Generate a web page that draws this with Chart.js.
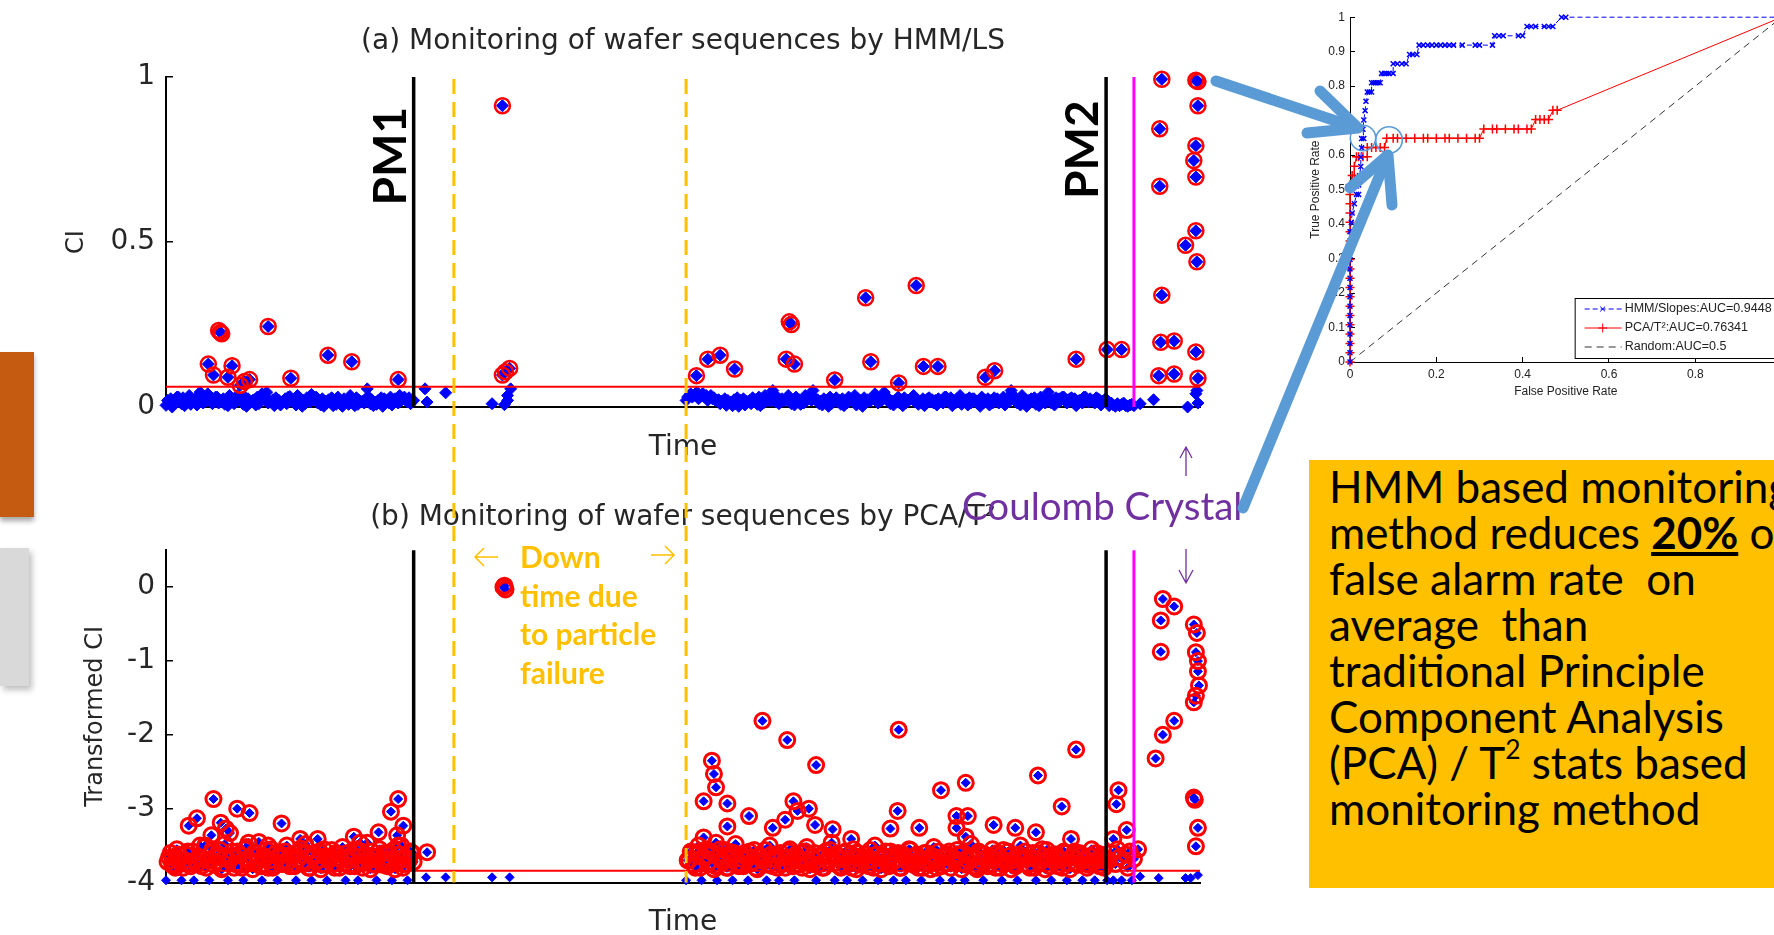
<!DOCTYPE html>
<html>
<head>
<meta charset="utf-8">
<script src="https://cdn.jsdelivr.net/npm/chart.js@4.4.1/dist/chart.umd.min.js"></script>
<style>
  html, body { margin: 0; padding: 0; }
  body { width: 1774px; height: 935px; overflow: hidden; position: relative; background: #fff; }
  canvas, .abs { position: absolute; }
  #barOrange { left: 0; top: 352px; width: 34px; height: 165px; background: #C55A11; box-shadow: 0 4px 5px rgba(0,0,0,0.35); }
  #barGray { left: 0; top: 548px; width: 29px; height: 138px; background: #D9D9D9; box-shadow: 3px 4px 6px rgba(0,0,0,0.25); }
  #downtime { left: 520px; top: 537px; font: bold 30px/38.5px Lato; color: #FFC000; white-space: nowrap; }
  #coulomb { left: 962px; top: 485px; font: 38.5px/40px Lato; color: #7030A0; white-space: nowrap; }
  #note { left: 1309px; top: 460px; width: 480px; height: 428px; background: #FFC000; box-sizing: border-box;
          padding: 3px 0 0 20px; font: 44px/46px Lato; color: #000; white-space: nowrap; overflow: hidden; }
  #note sup { font-size: 60%; line-height: 0; vertical-align: 0.75em; }
  #overlay { position: absolute; left: 0; top: 0; pointer-events: none; }
</style>
</head>
<body>
<div id="barOrange" class="abs"></div>
<div id="barGray" class="abs"></div>

<canvas id="chartA" width="1240" height="480" style="left:0;top:0"></canvas>
<canvas id="chartB" width="1240" height="470" style="left:0;top:480px"></canvas>
<canvas id="roc" width="505" height="410" style="left:1290px;top:0"></canvas>

<div id="downtime" class="abs">Down<br>time due<br>to particle<br>failure</div>
<div id="coulomb" class="abs">Coulomb Crystal</div>
<div id="note" class="abs">HMM based monitoring<br>method reduces <b><u>20%</u></b> of<br>false alarm rate&nbsp; on<br>average&nbsp; than<br>traditional Principle<br>Component Analysis<br>(PCA) / T<sup>2</sup> stats based<br>monitoring method</div>

<svg id="overlay" width="1774" height="935">
  <g fill="none" stroke="#5B9BD5" stroke-width="11" stroke-linecap="round" stroke-linejoin="round">
    <path d="M1216 81 L1354 127" />
    <path d="M1320 91 L1358 128 L1307 133" />
    <path d="M1243 508 L1386 160" />
    <path d="M1350 188 L1388 155 L1392 205" />
  </g>
  <g fill="none" stroke="#5B9BD5" stroke-width="1.6">
    <circle cx="1363" cy="138" r="12.7" />
    <circle cx="1389" cy="140" r="13.3" />
  </g>
  <g fill="none" stroke="#7030A0" stroke-width="1.3">
    <path d="M1186 476 L1186 448 M1180 458 L1186 447 L1192 458" />
    <path d="M1186 549 L1186 582 M1179 570 L1186 583 L1193 570" />
  </g>
  <g fill="none" stroke="#FFC000" stroke-width="1.5">
    <path d="M475 557 L498 557 M484 548 L475 557 L484 566" />
    <path d="M651 555 L674 555 M665 546 L674 555 L665 564" />
  </g>
</svg>

<script>
// Time axis landmarks (sample time)
const T_MAX = 1002;
const PM_TIMES = [240, 911];
const PM_LABELS = ['PM1', 'PM2'];
const PM_LABEL_CI = [0.76, 0.78];
const CRYSTAL_TIME = 938;
const DOWNTIME = [279, 504];

// (a) HMM/LS confidence index
const A_LIMIT = 0.061;
const A_RUN_START = [0, 504, 914, 1.5, 505.5];
const A_RUN_STEP = [3, 3, 2, 3, 3];
const aRun1 = [0.005,0.012,0.0,0.02,0.03,0.01,0.004,0.015,0.008,0.02,
  0.006,0.045,0.012,0.018,0.028,0.01,0.03,0.012,0.02,0.008,
  0.004,0.02,0.01,0.035,0.018,0.008,0.002,0.012,0.02,0.006,
  0.01,0.04,0.025,0.012,0.015,0.004,0.012,0.006,0.02,0.01,
  0.032,0.015,0.006,0.012,0.002,0.01,0.02,0.038,0.025,0.012,
  0.006,0.002,0.012,0.015,0.004,0.008,0.012,0.002,0.02,0.008,
  0.012,0.004,0.008,0.015,0.012,0.055,0.01,0.004,0.008,0.012,
  0.002,0.02,0.012,0.006,0.025,0.012,0.02,0.03,0.015,0.01,0.02];
const aRun2 = [0.02,0.035,0.03,0.04,0.025,0.038,0.03,0.02,0.035,0.028,
  0.02,0.01,0.015,0.005,0.012,0.004,0.01,0.002,0.012,0.006,
  0.015,0.01,0.02,0.008,0.004,0.012,0.02,0.03,0.05,0.015,
  0.01,0.025,0.02,0.035,0.01,0.006,0.015,0.008,0.012,0.02,
  0.03,0.05,0.02,0.01,0.006,0.015,0.002,0.01,0.02,0.015,
  0.008,0.004,0.012,0.025,0.018,0.006,0.012,0.002,0.015,0.02,
  0.025,0.04,0.012,0.02,0.045,0.02,0.01,0.006,0.015,0.012,
  0.004,0.012,0.02,0.03,0.015,0.008,0.012,0.004,0.025,0.015,
  0.012,0.006,0.02,0.012,0.03,0.015,0.004,0.012,0.02,0.008,
  0.015,0.006,0.012,0.025,0.012,0.002,0.012,0.02,0.006,0.012,
  0.02,0.012,0.015,0.006,0.03,0.05,0.02,0.012,0.006,0.012,
  0.002,0.012,0.02,0.008,0.004,0.015,0.012,0.045,0.012,0.006,
  0.015,0.02,0.03,0.012,0.025,0.015,0.004,0.02,0.012,0.03,
  0.015,0.02,0.012,0.025,0.006,0.015,0.02];
const aRun3 = [0.004,0.012,0.006,0.002,0.01,0.004,0.008,0.012,0.004,0.002,0.006,0.008,0.004];
const aRun1b = [0.02,0.025,0.018,0.03,0.022,0.028,0.015,0.035,0.02,0.025,
  0.03,0.018,0.022,0.04,0.025,0.02,0.03,0.015,0.025,0.02,
  0.035,0.022,0.018,0.028,0.02,0.03,0.025,0.015,0.022,0.03,
  0.02,0.025,0.045,0.018,0.022,0.028,0.02,0.015,0.025,0.03,
  0.022,0.018,0.035,0.025,0.02,0.028,0.015,0.022,0.03,0.02,
  0.025,0.018,0.022,0.028,0.02,0.03,0.015,0.025,0.02,0.035,
  0.022,0.028,0.02,0.018,0.025,0.03,0.022,0.015,0.02,0.028,
  0.025,0.02,0.03,0.022,0.018,0.035,0.025,0.02,0.028,0.022];
const aRun2b = [0.03,0.04,0.035,0.045,0.03,0.04,0.035,0.028,0.025,0.02,
  0.022,0.018,0.025,0.02,0.015,0.022,0.028,0.02,0.025,0.018,
  0.02,0.028,0.022,0.03,0.025,0.035,0.02,0.018,0.025,0.03,
  0.022,0.02,0.028,0.025,0.018,0.03,0.022,0.02,0.035,0.025,
  0.02,0.028,0.022,0.018,0.025,0.02,0.03,0.022,0.028,0.02,
  0.025,0.018,0.03,0.022,0.035,0.025,0.02,0.028,0.022,0.018,
  0.025,0.03,0.02,0.022,0.028,0.025,0.018,0.02,0.03,0.022,
  0.028,0.02,0.025,0.035,0.022,0.018,0.025,0.02,0.028,0.022,
  0.02,0.025,0.018,0.03,0.022,0.028,0.02,0.025,0.035,0.02,
  0.022,0.028,0.025,0.018,0.02,0.03,0.022,0.025,0.02,0.028,
  0.025,0.02,0.03,0.022,0.018,0.025,0.028,0.02,0.035,0.022,
  0.02,0.025,0.028,0.022,0.03,0.018,0.025,0.02,0.022,0.028,
  0.025,0.03,0.02,0.022,0.028,0.025,0.018,0.02,0.03,0.022,
  0.025,0.02,0.028,0.022,0.018,0.025];
const aLowTime = [251, 253, 271, 316, 328, 331, 331, 334, 944, 957, 990, 998, 999, 1000];
const aLowCI = [0.055, 0.015, 0.043, 0.01, 0.007, 0.02, 0.035, 0.055, 0.01, 0.022, 0.0, 0.04, 0.05, 0.012];
const aPeakTime = [41, 46, 51, 52.6, 54, 60, 64, 72, 76, 81, 99, 121, 157, 180, 225,
  326, 326, 329, 333,
  514, 525, 537, 551, 601, 604, 606, 609, 648, 678, 683, 710, 727, 734, 748, 794, 803, 882,
  912, 926,
  962, 963, 963, 964, 965, 965, 977, 977, 988, 996, 998, 998, 998, 998, 998, 999, 1000, 1000, 1000];
const aPeakCI = [0.13, 0.097, 0.232, 0.226, 0.222, 0.09, 0.125, 0.066, 0.077, 0.083, 0.244, 0.087, 0.157, 0.137, 0.083,
  0.913, 0.097, 0.107, 0.117,
  0.095, 0.145, 0.157, 0.115, 0.145, 0.258, 0.25, 0.13, 0.082, 0.331, 0.137, 0.073, 0.368, 0.123, 0.123, 0.09, 0.11, 0.145,
  0.174, 0.174,
  0.095, 0.843, 0.669, 0.196, 0.993, 0.339, 0.2, 0.1, 0.49, 0.747, 0.99, 0.792, 0.697, 0.534, 0.167, 0.44, 0.986, 0.913, 0.087];

// (b) PCA/T2 transformed confidence index
const B_LIMIT = -3.84;
const B_RUN_START = [0, 504, 914, 1.5, 505.5];
const B_RUN_STEP = [3, 3, 2, 3, 3];
const bRun1 = [-3.97,-3.66,-3.75,-3.8,-3.62,-3.97,-3.7,-3.58,-3.78,-3.97,
  -3.75,-3.5,-3.68,-3.8,-3.97,-3.55,-3.72,-3.62,-3.82,-3.48,
  -3.97,-3.65,-3.8,-3.58,-3.76,-3.97,-3.52,-3.7,-3.82,-3.6,
  -3.45,-3.97,-3.68,-3.8,-3.55,-3.78,-3.97,-3.62,-3.72,-3.5,
  -3.78,-3.65,-3.97,-3.58,-3.72,-3.48,-3.8,-3.97,-3.62,-3.7,
  -3.82,-3.55,-3.97,-3.66,-3.75,-3.6,-3.8,-3.52,-3.97,-3.7,
  -3.62,-3.78,-3.97,-3.58,-3.72,-3.46,-3.82,-3.65,-3.97,-3.55,
  -3.76,-3.7,-3.6,-3.97,-3.82,-3.5,-3.68,-3.75,-3.97,-3.58,-3.72];
const bRun2 = [-3.97,-3.7,-3.6,-3.8,-3.5,-3.97,-3.66,-3.75,-3.58,-3.82,
  -3.97,-3.55,-3.72,-3.8,-3.62,-3.97,-3.48,-3.78,-3.68,-3.6,
  -3.97,-3.74,-3.56,-3.82,-3.65,-3.7,-3.97,-3.5,-3.78,-3.62,
  -3.97,-3.66,-3.8,-3.58,-3.72,-3.97,-3.76,-3.6,-3.7,-3.52,
  -3.82,-3.75,-3.97,-3.64,-3.8,-3.58,-3.7,-3.46,-3.97,-3.68,
  -3.8,-3.6,-3.97,-3.72,-3.55,-3.82,-3.66,-3.97,-3.62,-3.78,
  -3.7,-3.5,-3.97,-3.82,-3.64,-3.74,-3.58,-3.97,-3.68,-3.8,
  -3.62,-3.97,-3.55,-3.72,-3.66,-3.8,-3.97,-3.6,-3.7,-3.82,
  -3.52,-3.8,-3.97,-3.65,-3.74,-3.58,-3.97,-3.68,-3.62,-3.82,
  -3.97,-3.7,-3.48,-3.78,-3.82,-3.6,-3.97,-3.66,-3.75,-3.55,
  -3.8,-3.64,-3.97,-3.7,-3.58,-3.82,-3.75,-3.97,-3.5,-3.66,
  -3.68,-3.8,-3.6,-3.97,-3.72,-3.55,-3.82,-3.66,-3.97,-3.62,
  -3.78,-3.7,-3.58,-3.97,-3.82,-3.64,-3.74,-3.6,-3.97,-3.68,
  -3.76,-3.55,-3.97,-3.7,-3.62,-3.8,-3.97];
const bRun3 = [-3.7,-3.6,-3.97,-3.75,-3.55,-3.66,-3.97,-3.7,-3.62,-3.8,-3.58,-3.97,-3.68];
const bRun1b = [-3.72,-3.6,-3.78,-3.55,-3.68,-3.8,-3.62,-3.74,-3.58,-3.7,
  -3.65,-3.78,-3.52,-3.7,-3.6,-3.76,-3.66,-3.56,-3.8,-3.64,
  -3.7,-3.58,-3.75,-3.62,-3.8,-3.55,-3.68,-3.74,-3.6,-3.72,
  -3.78,-3.64,-3.56,-3.7,-3.8,-3.6,-3.66,-3.75,-3.58,-3.72,
  -3.62,-3.78,-3.68,-3.54,-3.74,-3.6,-3.8,-3.66,-3.72,-3.58,
  -3.76,-3.64,-3.7,-3.56,-3.8,-3.62,-3.68,-3.74,-3.6,-3.78,
  -3.66,-3.55,-3.72,-3.8,-3.62,-3.7,-3.58,-3.76,-3.64,-3.72,
  -3.6,-3.78,-3.68,-3.56,-3.74,-3.62,-3.8,-3.66,-3.7,-3.6];
const bRun2b = [-3.7,-3.58,-3.76,-3.62,-3.8,-3.66,-3.55,-3.72,-3.6,-3.78,
  -3.64,-3.7,-3.56,-3.8,-3.68,-3.6,-3.74,-3.62,-3.78,-3.66,
  -3.58,-3.72,-3.8,-3.64,-3.7,-3.56,-3.76,-3.62,-3.68,-3.8,
  -3.6,-3.74,-3.66,-3.55,-3.78,-3.62,-3.7,-3.8,-3.58,-3.72,
  -3.66,-3.6,-3.76,-3.64,-3.8,-3.7,-3.56,-3.74,-3.62,-3.78,
  -3.68,-3.58,-3.72,-3.8,-3.64,-3.6,-3.76,-3.66,-3.7,-3.56,
  -3.8,-3.62,-3.74,-3.68,-3.58,-3.78,-3.64,-3.7,-3.6,-3.8,
  -3.66,-3.72,-3.56,-3.76,-3.62,-3.68,-3.8,-3.6,-3.74,-3.64,
  -3.7,-3.58,-3.78,-3.66,-3.62,-3.8,-3.7,-3.56,-3.74,-3.6,
  -3.76,-3.64,-3.68,-3.8,-3.58,-3.72,-3.62,-3.78,-3.66,-3.7,
  -3.6,-3.8,-3.56,-3.74,-3.64,-3.7,-3.78,-3.62,-3.68,-3.58,
  -3.76,-3.66,-3.8,-3.6,-3.72,-3.64,-3.56,-3.78,-3.7,-3.62,
  -3.68,-3.8,-3.6,-3.74,-3.66,-3.58,-3.76,-3.62,-3.7,-3.8,
  -3.64,-3.72,-3.6,-3.78,-3.66,-3.7];
const bLowTime = [252, 271, 316, 333, 944, 962, 988, 993, 1000];
const bLowCI = [-3.93, -3.93, -3.93, -3.93, -3.92, -3.94, -3.94, -3.94, -3.9];
const bPeakTime = [6, 22, 30, 38, 44, 46, 53, 58, 62, 69, 80, 81, 99, 112, 130, 147, 182, 188, 206, 218, 224, 225, 228, 230,
  253, 327, 328, 329,
  515, 521, 521, 529, 531, 533, 533, 544, 544, 548, 565, 578, 588, 600, 602, 608, 612, 623, 629, 630,
  646, 664, 702, 709, 710, 730, 751, 766, 766, 775, 775, 777, 802, 823, 843, 845, 868, 877, 882,
  918, 921, 923, 931, 942,
  959, 964, 964, 966, 966, 977, 977, 996, 996, 996, 997, 998, 998, 998, 999, 1000, 1000, 1000, 1001];
const bPeakCI = [-3.66, -3.23, -3.13, -3.5, -3.36, -2.87, -3.19, -3.27, -3.33, -3.0, -3.46, -3.06, -3.5, -3.2, -3.41, -3.41,
  -3.38, -3.46, -3.32, -3.04, -3.36, -2.87, -3.5, -3.23,
  -3.59, 0.0, 0.02, -0.03,
  -3.59, -2.9, -3.39, -2.35, -2.53, -2.71, -3.46, -2.93, -3.24, -3.59, -3.1, -1.81, -3.26, -3.15, -2.07, -2.9, -3.03, -3.0, -3.22, -2.41,
  -3.28, -3.41, -3.27, -3.03, -1.93, -3.26, -2.75, -3.1, -3.26, -2.65, -3.38, -3.1, -3.22, -3.26, -3.32, -2.55, -2.97, -3.41, -2.2,
  -3.41, -2.94, -2.75, -3.29, -3.55,
  -2.32, -0.45, -0.875, -0.16, -2.0, -0.26, -1.81, -1.56, -0.505, -2.85, -2.88, -0.88, -1.47, -3.51, -0.62, -1.0, -1.14, -3.26, -1.33];

// ROC curves
const hmmFpr = [0,0,0,0,0,0,0,0,0,0,0,0,0,0,0,0.003,0.005,0.01,0.015,0.02,0.02,0.022,0.025,0.025,0.027,0.027,0.032,
  0.03,0.032,0.035,0.037,0.04,0.045,0.05,0.05,0.055,0.06,0.065,0.07,0.073,0.08,0.085,0.09,0.1,0.1,0.11,0.12,0.13,
  0.138,0.145,0.155,0.16,0.17,0.18,0.19,0.2,0.21,0.22,0.23,0.24,0.26,0.29,0.3,0.33,0.335,0.345,0.355,0.39,0.4,
  0.41,0.42,0.43,0.45,0.46,0.47,0.49,0.5,1];
const hmmTpr = [0,0.027,0.054,0.081,0.108,0.135,0.162,0.189,0.216,0.243,0.27,0.297,0.324,0.351,0.378,0.405,0.432,0.459,0.486,0.486,0.513,0.54,0.567,0.594,0.621,0.648,0.648,
  0.675,0.702,0.729,0.756,0.783,0.783,0.783,0.81,0.81,0.81,0.81,0.81,0.837,0.837,0.837,0.837,0.837,0.865,0.865,0.865,0.865,
  0.892,0.892,0.892,0.919,0.919,0.919,0.919,0.919,0.919,0.919,0.919,0.919,0.919,0.919,0.919,0.919,0.946,0.946,0.946,0.946,0.946,
  0.973,0.973,0.973,0.973,0.973,0.973,1,1,1];
const pcaFpr = [0,0,0,0,0,0,0,0,0,0,0,0,0,0,0,0,0,0,0,0,0.005,0.01,0.01,0.015,0.02,0.03,0.04,0.04,0.05,0.06,0.07,0.08,
  0.085,0.1,0.11,0.13,0.15,0.17,0.18,0.2,0.22,0.23,0.25,0.27,0.29,0.3,0.31,0.33,0.34,0.36,0.38,0.39,0.41,0.42,
  0.43,0.44,0.45,0.46,0.47,0.48,1];
const pcaTpr = [0,0.027,0.054,0.081,0.108,0.135,0.162,0.189,0.216,0.243,0.27,0.297,0.324,0.351,0.378,0.405,0.432,0.459,0.486,0.514,0.541,0.541,0.568,0.595,0.595,0.595,0.595,0.622,0.622,0.622,0.622,0.622,
  0.649,0.649,0.649,0.649,0.649,0.649,0.649,0.649,0.649,0.649,0.649,0.649,0.649,0.649,0.676,0.676,0.676,0.676,0.676,0.676,0.676,0.676,
  0.703,0.703,0.703,0.703,0.73,0.73,1];
const randFpr = [0, 1];
const randTpr = [0, 1];
const ROC_LABELS = ['HMM/Slopes:AUC=0.9448', 'PCA/T\u00B2:AUC=0.76341', 'Random:AUC=0.5'];

Chart.defaults.font.family = 'DejaVu Sans';
Chart.defaults.color = '#262626';

function runPoints(starts, steps, runs) {
  return runs.flatMap((vals, r) => vals.map((v, i) => ({ x: starts[r] + i * steps[r], y: v })));
}
function pairs(xs, ys) {
  return xs.map((x, i) => ({ x: x, y: ys[i] }));
}
function vline(t, y0, y1, color, width) {
  return { data: [{ x: t, y: y0 }, { x: t, y: y1 }], showLine: true, borderColor: color, borderWidth: width, pointRadius: 0, clip: false };
}
const plainTick = v => String(Math.round(v * 100) / 100);

// PM1 / PM2 text beside the maintenance lines
const pmLabelPlugin = {
  id: 'pmLabels',
  afterDatasetsDraw(chart, args, opts) {
    if (!opts.show) return;
    const { ctx, scales: { x, y } } = chart;
    ctx.save();
    ctx.font = 'bold 46px Lato';
    ctx.fillStyle = '#000';
    ctx.textAlign = 'center';
    ctx.textBaseline = 'alphabetic';
    PM_LABELS.forEach((txt, i) => {
      ctx.save();
      ctx.translate(x.getPixelForValue(PM_TIMES[i]) - 8, y.getPixelForValue(PM_LABEL_CI[i]));
      ctx.rotate(-Math.PI / 2);
      ctx.fillText(txt, 0, 0);
      ctx.restore();
    });
    ctx.restore();
  }
};

// dashed orange lines marking the down time, running across both panels
const downtimePlugin = {
  id: 'downtime',
  afterDraw(chart, args, opts) {
    const { ctx, chartArea, scales: { x } } = chart;
    ctx.save();
    ctx.strokeStyle = '#FFC000';
    ctx.lineWidth = 3;
    ctx.setLineDash([15, 8]);
    DOWNTIME.forEach(t => {
      const px = x.getPixelForValue(t);
      ctx.beginPath();
      ctx.moveTo(px, opts.top ? chartArea.top + 2 : 0);
      ctx.lineTo(px, opts.top ? chart.height : chartArea.bottom);
      ctx.stroke();
    });
    ctx.restore();
  }
};

function monitorChart(id, cfg) {
  const all = runPoints(cfg.starts, cfg.steps, cfg.runs)
    .concat(pairs(cfg.lowT, cfg.lowV), pairs(cfg.peakT, cfg.peakV));
  const alarms = all.filter(p => p.y > cfg.limit);
  return new Chart(document.getElementById(id), {
    type: 'scatter',
    data: {
      datasets: [
        vline(PM_TIMES[0], cfg.min, cfg.max, '#000', 3.5),
        vline(PM_TIMES[1], cfg.min, cfg.max, '#000', 3.5),
        vline(CRYSTAL_TIME, cfg.min, cfg.max, '#FF00FF', 3),
        { data: [{ x: 0, y: cfg.limit }, { x: T_MAX, y: cfg.limit }], showLine: true, borderColor: '#FF0000', borderWidth: 2, pointRadius: 0 },
        // alarm rings are drawn over the sample markers
        { data: alarms, pointStyle: 'circle', pointRadius: 7.5, backgroundColor: 'rgba(0,0,0,0)', borderColor: '#FF0000', borderWidth: cfg.ringWidth, clip: false },
        { data: all, pointStyle: 'rectRot', pointRadius: cfg.dotRadius, backgroundColor: '#0000FF', borderColor: '#0000FF', borderWidth: 1, clip: false }
      ]
    },
    options: {
      responsive: false,
      animation: false,
      events: [],
      layout: { padding: { left: 0, right: 40, top: 0, bottom: 0 } },
      plugins: {
        legend: { display: false },
        tooltip: { enabled: false },
        title: { display: true, text: cfg.title, fullSize: false, color: '#262626',
                 font: { size: 28, weight: 'normal', lineHeight: 1.2 }, padding: cfg.titlePad },
        pmLabels: { show: cfg.pmLabels },
        downtime: { top: cfg.dashFromTop }
      },
      scales: {
        x: {
          type: 'linear', min: 0, max: T_MAX,
          ticks: { display: false },
          grid: { display: false },
          border: { color: '#000', width: 2 },
          title: { display: true, text: 'Time', color: '#262626', font: { size: 28, lineHeight: 1.2 }, padding: { top: 0, bottom: cfg.timePad } },
          afterFit: s => { s.height = cfg.xHeight; }
        },
        y: {
          min: cfg.min, max: cfg.max,
          ticks: { stepSize: cfg.step, padding: 18, color: '#262626', font: { size: 28 }, callback: plainTick },
          afterBuildTicks: s => { s.ticks = s.ticks.filter(t => Math.abs(t.value / cfg.step - Math.round(t.value / cfg.step)) < 1e-6); },
          grid: { drawOnChartArea: false, tickLength: -7, color: '#000', lineWidth: 1.5 },
          border: { color: '#000', width: 2 },
          title: { display: true, text: cfg.yTitle, color: '#262626', font: { size: 24, lineHeight: 1.2 }, padding: { top: cfg.yTitlePad, bottom: 0 } },
          afterFit: s => { s.width = 166; }
        }
      }
    },
    plugins: [pmLabelPlugin, downtimePlugin]
  });
}

monitorChart('chartA', {
  title: '(a) Monitoring of wafer sequences by HMM/LS',
  yTitle: 'CI', min: 0, max: 1, step: 0.5, limit: A_LIMIT,
  starts: A_RUN_START, steps: A_RUN_STEP, runs: [aRun1, aRun2, aRun3, aRun1b, aRun2b],
  lowT: aLowTime, lowV: aLowCI, peakT: aPeakTime, peakV: aPeakCI,
  dotRadius: 6, ringWidth: 2.5, pmLabels: true,
  titlePad: { top: 25, bottom: 18.4 }, xHeight: 73, timePad: 15, yTitlePad: 62, dashFromTop: true
});

monitorChart('chartB', {
  title: '(b) Monitoring of wafer sequences by PCA/T\u00B2',
  yTitle: 'Transformed CI', min: -4, max: 0.5, step: 1, limit: B_LIMIT,
  starts: B_RUN_START, steps: B_RUN_STEP, runs: [bRun1, bRun2, bRun3, bRun1b, bRun2b],
  lowT: bLowTime, lowV: bLowCI, peakT: bPeakTime, peakV: bPeakCI,
  dotRadius: 4.5, ringWidth: 3, pmLabels: false,
  titlePad: { top: 21, bottom: 15.7 }, xHeight: 67.5, timePad: 10, yTitlePad: 81, dashFromTop: false
});

// legend box of the ROC panel
const rocLegend = {
  id: 'rocLegend',
  afterDraw(chart) {
    const { ctx, chartArea } = chart;
    const x0 = chartArea.right - 207, y0 = chartArea.bottom - 64;
    ctx.save();
    ctx.fillStyle = '#fff';
    ctx.fillRect(x0, y0, 230, 60);
    ctx.strokeStyle = '#000';
    ctx.lineWidth = 1;
    ctx.strokeRect(x0 + 0.5, y0 + 0.5, 230, 60);
    ctx.font = '12.5px "Liberation Sans"';
    ctx.textBaseline = 'middle';
    chart.data.datasets.forEach((ds, i) => {
      const y = y0 + 11 + i * 19;
      ctx.strokeStyle = ds.borderColor;
      ctx.lineWidth = 1;
      ctx.setLineDash(ds.borderDash || []);
      ctx.beginPath();
      ctx.moveTo(x0 + 10, y);
      ctx.lineTo(x0 + 47, y);
      ctx.stroke();
      ctx.setLineDash([]);
      const r = ds.pointRadius, cx = x0 + 28;
      ctx.beginPath();
      if (ds.pointStyle === 'crossRot') {
        ctx.moveTo(cx - r * 0.7, y - r * 0.7); ctx.lineTo(cx + r * 0.7, y + r * 0.7);
        ctx.moveTo(cx - r * 0.7, y + r * 0.7); ctx.lineTo(cx + r * 0.7, y - r * 0.7);
      } else if (ds.pointStyle === 'cross') {
        ctx.moveTo(cx - r, y); ctx.lineTo(cx + r, y);
        ctx.moveTo(cx, y - r); ctx.lineTo(cx, y + r);
      }
      ctx.stroke();
      ctx.fillStyle = '#222';
      ctx.fillText(ds.label, x0 + 50, y);
    });
    ctx.restore();
  }
};

const rocFont = { family: 'Liberation Sans', size: 12 };
new Chart(document.getElementById('roc'), {
  type: 'line',
  data: {
    datasets: [
      { label: ROC_LABELS[0], data: pairs(hmmFpr, hmmTpr), borderColor: '#0000FF', borderWidth: 1, borderDash: [5, 3],
        pointStyle: 'crossRot', pointRadius: 3.5, pointBorderColor: '#0000FF', pointBorderWidth: 1.5, clip: false },
      { label: ROC_LABELS[1], data: pairs(pcaFpr, pcaTpr), borderColor: '#FF0000', borderWidth: 1,
        pointStyle: 'cross', pointRadius: 4.5, pointBorderColor: '#FF0000', pointBorderWidth: 1.5, clip: false },
      { label: ROC_LABELS[2], data: pairs(randFpr, randTpr), borderColor: '#333', borderWidth: 1, borderDash: [7, 5],
        pointRadius: 0, clip: false }
    ]
  },
  options: {
    responsive: false,
    animation: false,
    events: [],
    layout: { padding: { left: 0, right: 10, top: 17, bottom: 0 } },
    plugins: { legend: { display: false }, tooltip: { enabled: false } },
    scales: {
      x: {
        type: 'linear', min: 0, max: 1,
        ticks: { stepSize: 0.2, padding: 10, font: rocFont, color: '#222', maxRotation: 0, callback: plainTick },
        grid: { drawOnChartArea: false, tickLength: -5, color: '#000' },
        border: { color: '#000', width: 1 },
        title: { display: true, text: 'False Positive Rate', color: '#222', font: rocFont, padding: { top: 0, bottom: 11 } },
        afterFit: s => { s.height = 48; }
      },
      y: {
        min: 0, max: 1,
        ticks: { stepSize: 0.1, padding: 10, font: rocFont, color: '#222', callback: plainTick },
        grid: { drawOnChartArea: false, tickLength: -5, color: '#000' },
        border: { color: '#000', width: 1 },
        title: { display: true, text: 'True Positive Rate', color: '#222', font: rocFont, padding: { top: 18, bottom: 0 } },
        afterFit: s => { s.width = 60; }
      }
    }
  },
  plugins: [rocLegend]
});
</script>
</body>
</html>
